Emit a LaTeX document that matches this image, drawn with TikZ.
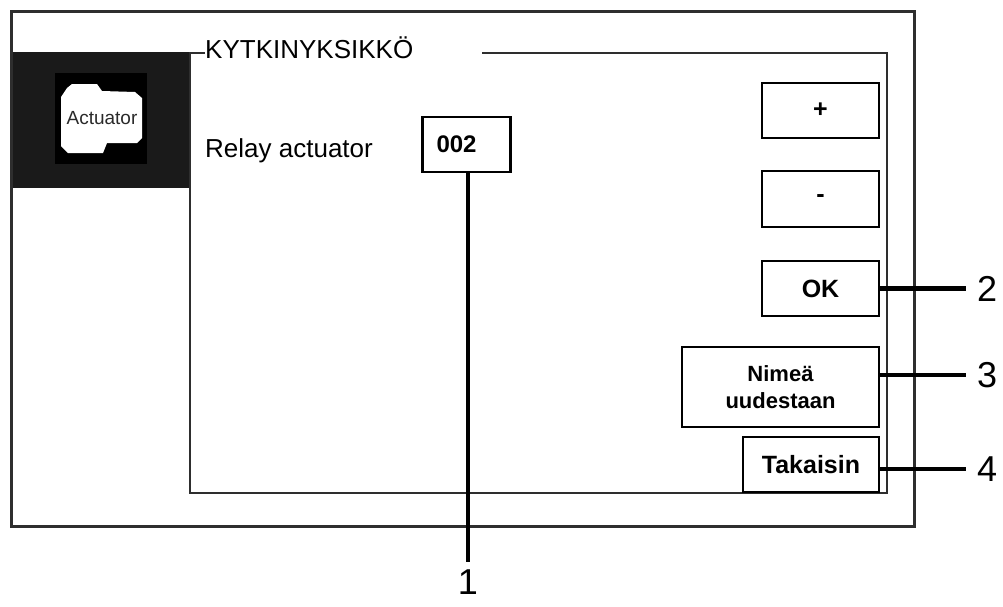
\documentclass[tikz,border=0pt]{standalone}
\usepackage{fontspec}
\setmainfont{Liberation Sans}
\usetikzlibrary{positioning}
\definecolor{framegray}{HTML}{2E2E2E}
\definecolor{sidebar}{HTML}{1A1A1A}
\definecolor{icontext}{HTML}{2A2A2A}

\begin{document}
\begin{tikzpicture}[
    x=1pt, y=-1pt,
    frame/.style={draw=framegray, line width=3pt},
    panel/.style={draw=framegray, line width=2.6pt},
    button/.style={rectangle, draw=black, line width=2.4pt, fill=white, inner sep=0pt,
                   font=\fontsize{25}{29}\selectfont\bfseries, align=center},
    plainlabel/.style={font=\fontsize{26}{30}\selectfont, inner sep=0pt},
    callout/.style={font=\fontsize{36}{40}\selectfont, inner sep=0pt},
    leader/.style={draw=black, line width=4.6pt, shorten >=11pt},
]

\useasboundingbox (0,0) rectangle (1003,606);

% Cornice esterna
\draw[frame] (11,11) rectangle (914,526);

% Barra laterale
\fill[sidebar] (12.5,52) rectangle (190,188);

% Pannello interno
\draw[panel] (205,53) -- (190,53) -- (190,493) -- (887,493) -- (887,53) -- (482,53);
\node[plainlabel, anchor=base west] (title) at (205,58) {KYTKINYKSIKKÖ};

% Icona
\fill[black] (55,73) rectangle (147,164);
\fill[white] (72,84) -- (97,84) -- (102,91) -- (135,92) -- (142,98) -- (142,138)
    -- (137,143) -- (107,143) -- (103,153) -- (68,153) -- (61,146) -- (61,97)
    -- (67,88) -- cycle;
\node[font=\fontsize{19}{22}\selectfont, text=icontext, inner sep=0pt] (icon) at (102,118) {Actuator};

% Valore
\node[plainlabel, anchor=base west] (relay) at (205,157) {Relay actuator};
\node[button, minimum height=55pt, inner xsep=14pt, text width=60pt, align=left,
      font=\fontsize{24}{28}\selectfont\bfseries] (value) at (466.5,144.5) {002};

% Pulsanti
\node[button, minimum width=117pt, minimum height=55pt] (plus) at (820.5,110.5) {+};
\node[button, minimum width=117pt, minimum height=56pt] (minus) at (820.5,199) {-};
\node[button, minimum width=117pt, minimum height=55pt] (ok) at (820.5,288.5) {OK};
\node[button, minimum width=197pt, minimum height=80pt,
      font=\fontsize{22}{27}\selectfont\bfseries] (rename) at (780.5,387) {Nimeä\\uudestaan};
\node[button, minimum width=136pt, minimum height=55pt] (back) at (811,464.5) {Takaisin};

% Richiami
\node[callout, anchor=north] (n1) at (468,570) {1};
\node[callout, anchor=west] (n2) at (977,288.5) {2};
\node[callout, anchor=west] (n3) at (977,375) {3};
\node[callout, anchor=west] (n4) at (977,469) {4};

\draw[leader, shorten >=8pt] (n1.north |- value.south) -- (n1.north);
\draw[leader] (n2.west -| ok.east) -- (n2.west);
\draw[leader] (n3.west -| rename.east) -- (n3.west);
\draw[leader] (n4.west -| back.east) -- (n4.west);

\end{tikzpicture}
\end{document}
